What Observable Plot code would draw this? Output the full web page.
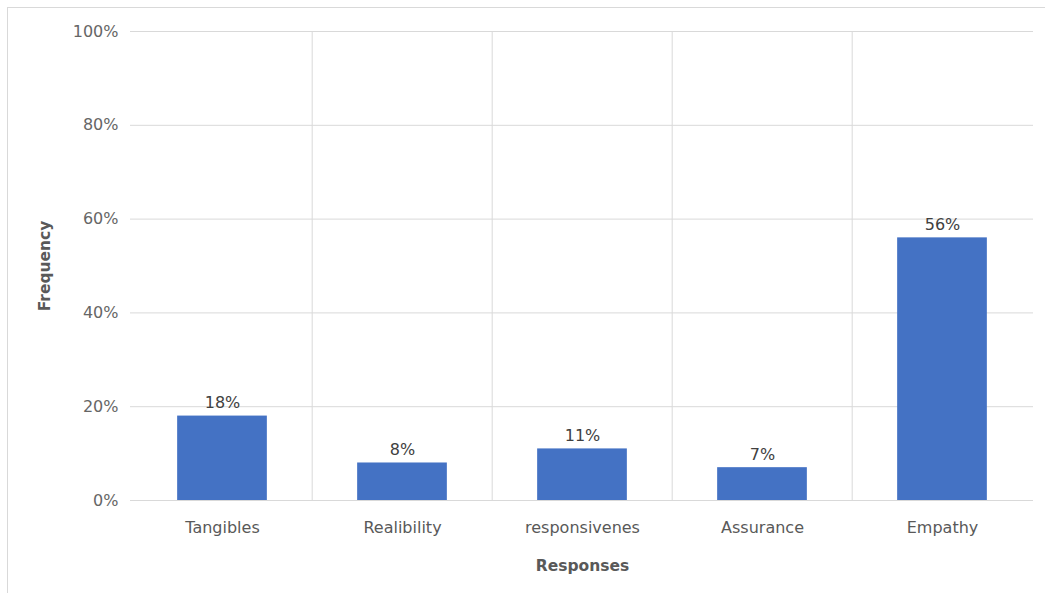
<!DOCTYPE html>
<html>
<head>
<meta charset="utf-8">
<script src="https://cdn.jsdelivr.net/npm/d3@7"></script>
<script src="https://cdn.jsdelivr.net/npm/@observablehq/plot@0.6"></script>
<style>
  html, body { margin: 0; padding: 0; background: #fff; }
  #frame { position: absolute; left: 7px; top: 7px; width: 1045px; height: 593px;
           border-top: 1px solid #d9d9d9; border-left: 1px solid #d9d9d9; }
  #chart { position: absolute; left: 0; top: 0; }
</style>
</head>
<body>
<div id="frame"></div>
<div id="chart"></div>
<script>
const categories = ["Tangibles", "Realibility", "responsivenes", "Assurance", "Empathy"];
const values = [0.18, 0.08, 0.11, 0.07, 0.56];
const yTicks = [0, 0.2, 0.4, 0.6, 0.8, 1.0];

const data = categories.map((c, i) => ({category: c, value: values[i]}));
const W = 1045, H = 593;
const mL = 130, mR = 12, mT = 31, mB = 93;
const bw = (W - mL - mR) / categories.length;
const font = "'DejaVu Sans', sans-serif";

const plot = Plot.plot({
  width: W, height: H,
  marginLeft: mL, marginRight: mR, marginTop: mT, marginBottom: mB,
  style: {fontFamily: font, background: "transparent"},
  x: {domain: categories, padding: 0, label: null, axis: null},
  y: {domain: [0, 1], label: null, axis: null},
  marks: [
    Plot.ruleY(yTicks, {stroke: "#d9d9d9", strokeWidth: 1}),
    Plot.ruleX(categories.slice(1), {x: d => d, dx: -bw / 2, stroke: "#d9d9d9", strokeWidth: 1}),
    Plot.barY(data, {x: "category", y: "value", fill: "#4472C4", insetLeft: bw / 4, insetRight: bw / 4}),
    Plot.text(data, {x: "category", y: "value", text: d => Math.round(d.value * 100) + "%",
      dy: -13, fill: "#404040", fontSize: 16}),
    Plot.axisY({ticks: yTicks, tickFormat: d => Math.round(d * 100) + "%", tickSize: 0, tickPadding: 12,
      fontSize: 16, color: "#666666", label: null}),
    Plot.axisX({tickSize: 0, tickPadding: 21, fontSize: 16, color: "#595959", label: null}),
    Plot.text(["Responses"], {frameAnchor: "bottom", lineAnchor: "middle", textAnchor: "middle", dy: 66, fontSize: 15.5, fontWeight: "bold", fill: "#595959",
      x: () => categories[2]}),
    Plot.text(["Frequency"], {frameAnchor: "left", lineAnchor: "middle", textAnchor: "middle", dx: -85, rotate: -90, fontSize: 15.5, fontWeight: "bold", fill: "#595959"})
  ]
});
document.getElementById("chart").appendChild(plot);
</script>
</body>
</html>
